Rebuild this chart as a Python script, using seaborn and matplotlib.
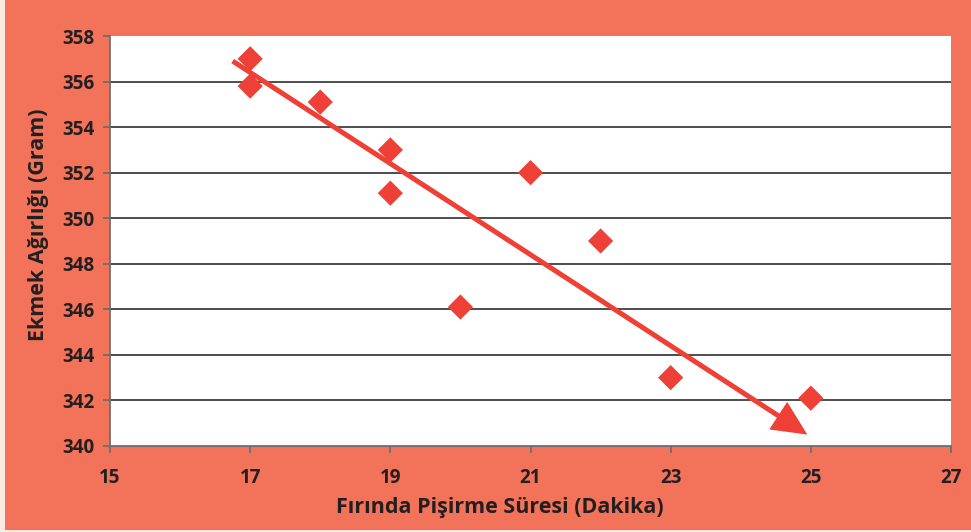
import matplotlib
matplotlib.use("Agg")
import matplotlib.pyplot as plt
import matplotlib.patches as mpatches
import seaborn as sns
import pandas as pd

# Baking time (minutes) vs bread weight (grams)
bake_minutes = [17, 17, 18, 19, 19, 20, 21, 22, 23, 25]
bread_grams = [357.0, 355.8, 355.1, 353.0, 351.1, 346.1, 352.0, 349.0, 343.0, 342.1]

# Hand-drawn trend arrow (start, end)
trend_x = [16.75, 24.95]
trend_y = [356.9, 340.5]

x_ticks = [15, 17, 19, 21, 23, 25, 27]
y_ticks = [340, 342, 344, 346, 348, 350, 352, 354, 356, 358]

BG = "#F2735A"
RED = "#EE4036"
TEXT = "#231F20"

sns.set_theme(style="white")
plt.rcParams["font.family"] = ["Open Sans", "DejaVu Sans"]

df = pd.DataFrame({"minutes": bake_minutes, "grams": bread_grams})

fig = plt.figure(figsize=(9.71, 5.32), dpi=100, facecolor=BG)
# thin pale strips on the left and bottom edges
fig.patches.append(mpatches.Rectangle((0, 0), 5 / 971, 1, transform=fig.transFigure,
                                      facecolor="#FCEAE3", edgecolor="none", zorder=0))
fig.patches.append(mpatches.Rectangle((0, 0), 1, 2 / 532, transform=fig.transFigure,
                                      facecolor="#FCEAE3", edgecolor="none", zorder=0))

ax = fig.add_axes([0.1133, 0.1617, 0.8661, 0.7706])
ax.set_facecolor("white")

sns.scatterplot(data=df, x="minutes", y="grams", marker="D", s=165, color=RED,
                edgecolor="none", ax=ax, zorder=3, legend=False)

ax.annotate("", xy=(trend_x[1], trend_y[1]), xytext=(trend_x[0], trend_y[0]),
            arrowprops=dict(arrowstyle="-|>,head_length=0.95,head_width=0.45",
                            color=RED, lw=3.6, mutation_scale=20,
                            joinstyle="miter", capstyle="butt",
                            shrinkA=0, shrinkB=0), zorder=4)

ax.set_xlim(15, 27)
ax.set_ylim(340, 358)
ax.set_xticks(x_ticks)
ax.set_yticks(y_ticks)

for y in y_ticks[1:-1]:
    ax.axhline(y, color="#3F3F3F", lw=1.3, zorder=1)

for side in ["top", "right"]:
    ax.spines[side].set_visible(False)
for side in ["left", "bottom"]:
    ax.spines[side].set_color("#6D6E71")
    ax.spines[side].set_linewidth(1.3)

ax.tick_params(axis="both", direction="out", length=5, width=1.3, color="#6D6E71",
               labelsize=13.5, labelcolor=TEXT, bottom=True, left=True)
ax.tick_params(axis="x", pad=11)
ax.tick_params(axis="y", pad=6)
for lbl in ax.get_xticklabels() + ax.get_yticklabels():
    lbl.set_fontweight("bold")

ax.set_xlabel("Fırında Pişirme Süresi (Dakika)", fontsize=15.5, fontweight="bold",
              color=TEXT)
ax.set_ylabel("Ekmek Ağırlığı (Gram)", fontsize=15.5, fontweight="bold",
              color=TEXT)
ax.xaxis.set_label_coords(0.464, -0.125)
ax.yaxis.set_label_coords(-0.072, 0.539)

fig.savefig("out.png", dpi=100, facecolor=BG)
